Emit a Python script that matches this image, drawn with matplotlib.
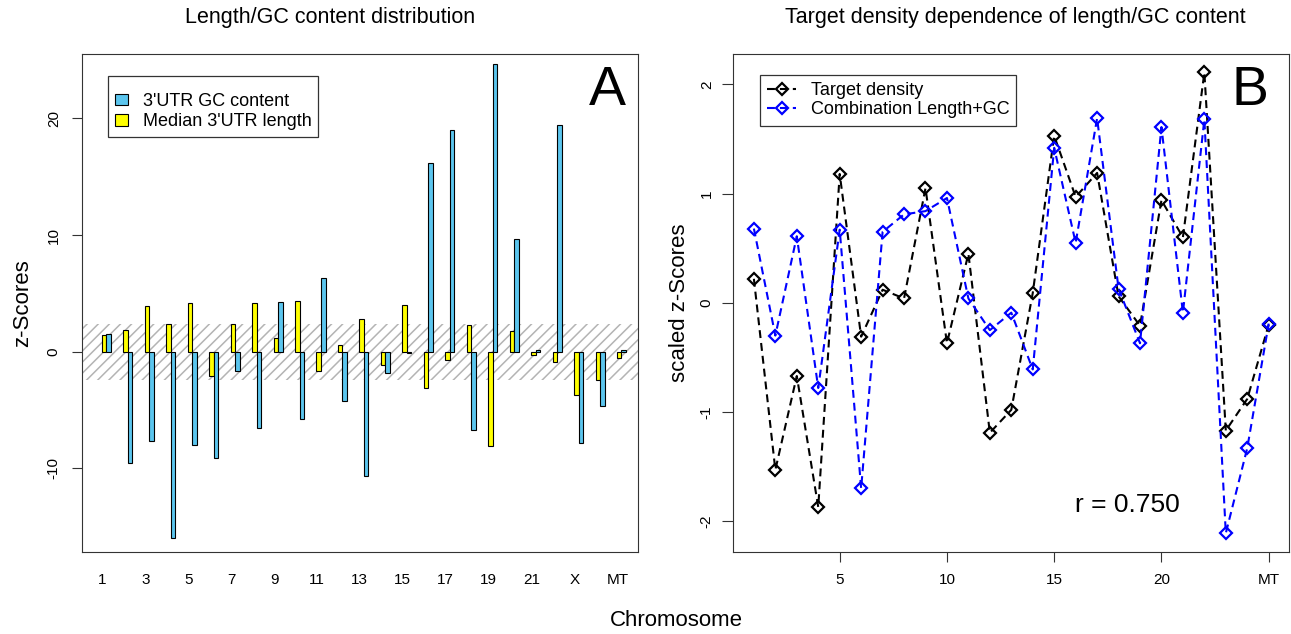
import matplotlib
matplotlib.use('Agg')
import matplotlib.pyplot as plt

plt.rcParams['font.family'] = ['Liberation Sans', 'DejaVu Sans']
plt.rcParams['hatch.linewidth'] = 1.1

# chromosome names (1-22, X, Y, MT)
chroms = [str(i) for i in range(1, 23)] + ['X', 'Y', 'MT']
positions = list(range(1, len(chroms) + 1))

# panel A: z-scores per chromosome
gc_z = [1.54, -9.52, -7.69, -15.98, -8.00, -9.15, -1.68, -6.58, 4.22, -5.75,
        6.30, -4.27, -10.66, -1.79, -0.10, 16.15, 19.03, -6.75, 24.64, 9.63,
        0.17, 19.43, -7.83, -4.67, 0.17]
len_z = [1.45, 1.88, 3.93, 2.39, 4.19, -2.11, 2.34, 4.19, 1.14, 4.36,
         -1.68, 0.54, 2.82, -1.17, 4.02, -3.10, -0.68, 2.31, -8.06, 1.74,
         -0.31, -0.85, -3.68, -2.39, -0.57]
band = 2.4

# panel B: scaled z-scores
target_density = [0.22, -1.53, -0.67, -1.87, 1.18, -0.31, 0.12, 0.04, 1.05, -0.37,
                  0.45, -1.19, -0.98, 0.09, 1.53, 0.97, 1.19, 0.06, -0.21, 0.94,
                  0.60, 2.11, -1.17, -0.88, -0.20]
combination = [0.68, -0.30, 0.61, -0.78, 0.67, -1.70, 0.65, 0.81, 0.84, 0.96,
               0.04, -0.25, -0.09, -0.61, 1.42, 0.55, 1.69, 0.13, -0.37, 1.61,
               -0.09, 1.68, -2.11, -1.33, -0.19]
r_value = 0.750

W, H = 1291, 634
fig = plt.figure(figsize=(W / 100, H / 100), dpi=100)


def box(x0, y0, x1, y1):
    return [x0 / W, 1 - y1 / H, (x1 - x0) / W, (y1 - y0) / H]


frame_col = '#333333'
tick_fs = 11
lab_fs = 16

# ---------------- Panel A ----------------
ax1 = fig.add_axes(box(81.7, 54, 638, 552))
ax1.axhspan(-band, band, facecolor='none', edgecolor='#b4b4b4',
            hatch='///', linewidth=0, zorder=0)
bw = 0.21
ax1.bar([p - 0.02 for p in positions], len_z, width=bw, align='edge',
        color='#ffff00', edgecolor='black', linewidth=0.8, zorder=2,
        label="Median 3'UTR length")
ax1.bar([p - 0.02 + bw for p in positions], gc_z, width=bw, align='edge',
        color='#5bc5ee', edgecolor='black', linewidth=0.8, zorder=2,
        label="3'UTR GC content")
ax1.set_xlim(0.04, 25.96)
ax1.set_ylim(-17.18, 25.53)
ax1.set_xticks(positions[::2])
ax1.set_xticklabels(chroms[::2], fontsize=tick_fs)
ax1.tick_params(axis='x', length=0, pad=15)
ax1.set_yticks([-10, 0, 10, 20])
ax1.set_yticklabels(['-10', '0', '10', '20'], rotation=90, va='center', fontsize=tick_fs)
ax1.tick_params(axis='y', length=7, width=0.8, pad=8, color=frame_col)
ax1.set_ylabel('z-Scores', fontsize=lab_fs, labelpad=10)
for s in ax1.spines.values():
    s.set_color(frame_col)
handles, labels = ax1.get_legend_handles_labels()
leg1 = ax1.legend(handles[::-1], labels[::-1], loc='upper left',
                  bbox_to_anchor=(108 / W, 1 - 76 / H), bbox_transform=fig.transFigure,
                  fontsize=13, frameon=True, fancybox=False, framealpha=1,
                  edgecolor=frame_col, borderaxespad=0, handlelength=0.75,
                  handleheight=0.6, handletextpad=0.8, labelspacing=0.18,
                  borderpad=0.38, title=' ', title_fontsize=6)
leg1.get_frame().set_linewidth(0.9)
ax1.text(0.945, 0.925, 'A', transform=ax1.transAxes, fontsize=40,
         ha='center', va='center')

# ---------------- Panel B ----------------
ax2 = fig.add_axes(box(733.3, 54, 1289.3, 552))
dash = (0, (3.8, 2.4))
ax2.plot(positions, target_density, color='black', linestyle=dash, linewidth=1.5,
         marker='D', markersize=6.5, markerfacecolor='none', markeredgewidth=1.6,
         label='Target density')
ax2.plot(positions, combination, color='#0000ff', linestyle=dash, linewidth=1.5,
         marker='D', markersize=6.5, markerfacecolor='none', markeredgewidth=1.6,
         label='Combination Length+GC')
ax2.set_xlim(0.04, 25.96)
ax2.set_ylim(-2.282, 2.279)
ax2.set_xticks([5, 10, 15, 20, 25])
ax2.set_xticklabels(['5', '10', '15', '20', 'MT'], fontsize=tick_fs)
ax2.tick_params(axis='x', length=7, width=0.8, pad=8, color=frame_col)
ax2.set_yticks([-2, -1, 0, 1, 2])
ax2.set_yticklabels(['-2', '-1', '0', '1', '2'], rotation=90, va='center', fontsize=tick_fs)
ax2.tick_params(axis='y', length=8, width=0.8, pad=6, color=frame_col)
ax2.set_ylabel('scaled z-Scores', fontsize=lab_fs, labelpad=7)
for s in ax2.spines.values():
    s.set_color(frame_col)
leg2 = ax2.legend(loc='upper left', bbox_to_anchor=(760 / W, 1 - 75 / H),
                  bbox_transform=fig.transFigure, fontsize=13, frameon=True,
                  fancybox=False, framealpha=1, edgecolor=frame_col, borderaxespad=0,
                  handlelength=1.6, handletextpad=0.8, labelspacing=0.12,
                  borderpad=0.4)
leg2.get_frame().set_linewidth(0.9)
ax2.text(0.93, 0.925, 'B', transform=ax2.transAxes, fontsize=40,
         ha='center', va='center')
ax2.text(0.709, 0.094, f'r = {r_value:.3f}', transform=ax2.transAxes,
         fontsize=19, ha='center', va='center')

# titles and shared x label
fig.text(330 / W, 1 - 18 / H, 'Length/GC content distribution', fontsize=15.5,
         ha='center', va='center')
fig.text(1015 / W, 1 - 18 / H, 'Target density dependence of length/GC content',
         fontsize=15.5, ha='center', va='center')
fig.text(676 / W, 1 - 621 / H, 'Chromosome', fontsize=lab_fs, ha='center', va='center')

fig.savefig('out.png', dpi=100)
